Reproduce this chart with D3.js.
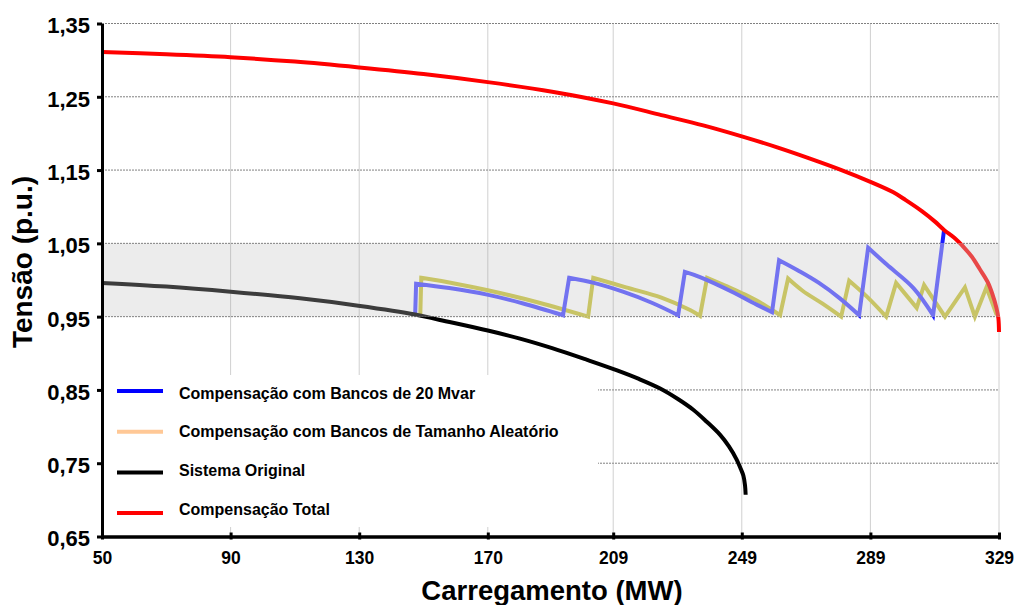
<!DOCTYPE html>
<html>
<head>
<meta charset="utf-8">
<script src="https://cdn.jsdelivr.net/npm/d3@7"></script>
<style>
  html, body { margin: 0; padding: 0; background: #fff; }
  svg { display: block; font-family: Arial, "Liberation Sans", sans-serif; }
</style>
</head>
<body>
<svg id="chart" width="1017" height="605"></svg>
<script>
// Perfil de tensão x carregamento para diferentes estratégias de compensação

const xTicks = [50, 90, 130, 170, 209, 249, 289, 329];
const yTicks = [0.65, 0.75, 0.85, 0.95, 1.05, 1.15, 1.25, 1.35];
const faixaTensao = [0.95, 1.05];

// [carregamento MW, tensão p.u.]
const sistemaOriginal = [
  [50, 0.996], [70, 0.991], [90, 0.984], [111.6, 0.975], [129.7, 0.965],
  [147.4, 0.953], [155.1, 0.9455], [170, 0.931], [180, 0.920], [190, 0.907],
  [200.9, 0.891], [210, 0.877], [217, 0.865], [223.6, 0.852], [229, 0.838],
  [233.9, 0.823], [238, 0.807], [242.2, 0.789], [245, 0.773], [247.4, 0.755],
  [248.7, 0.742], [249.5, 0.733], [250, 0.720], [250.2, 0.707]
];

const compensacaoTotal = [
  [50, 1.311], [70, 1.308], [90, 1.304], [110, 1.298], [130, 1.290],
  [150, 1.281], [170, 1.270], [190, 1.257], [209, 1.241], [224, 1.225],
  [237, 1.211], [249, 1.196], [260, 1.181], [270, 1.166], [280, 1.150],
  [289, 1.134], [296, 1.120], [300, 1.109], [305, 1.094], [309, 1.080],
  [312, 1.068], [315, 1.058], [318, 1.045], [320.5, 1.032], [323, 1.015],
  [325.5, 0.997], [327, 0.980], [328.2, 0.962], [328.8, 0.948], [329, 0.929]
];

const bancos20Mvar = [
  [147.4, 0.953], [147.7, 0.995], [158, 0.989], [169.8, 0.980], [181, 0.968], [193.4, 0.952],
  [195.3, 1.003], [203, 0.996], [212, 0.984], [221, 0.969], [229.2, 0.952],
  [231.3, 1.011], [236, 1.004], [246.4, 0.983], [252, 0.970], [258.4, 0.956],
  [260.6, 1.027], [266.5, 1.013], [273, 0.996], [279.5, 0.975], [285.5, 0.952],
  [288.3, 1.044], [294.1, 1.021], [302.4, 0.989], [308.5, 0.952],
  [311.9, 1.068]
];

const bancosAleatorios = [
  [149, 0.952], [149.3, 1.003], [160, 0.995], [170, 0.986], [186, 0.969], [201.2, 0.950],
  [202.8, 1.003], [213, 0.990], [224, 0.976], [232.9, 0.959], [236, 0.951],
  [238.2, 1.003], [244, 0.992], [250, 0.980], [256, 0.966], [260.9, 0.952],
  [263.4, 1.002], [268, 0.985], [274, 0.968], [279.9, 0.950],
  [282.4, 0.999], [288, 0.977], [293.9, 0.950],
  [297, 0.996], [303.4, 0.962], [305.7, 0.993], [312.2, 0.950],
  [318.4, 0.990], [321.5, 0.950], [325.1, 0.990], [328.3, 0.952]
];

const legendLabels = [
  "Compensação com Bancos de 20 Mvar",
  "Compensação com Bancos de Tamanho Aleatório",
  "Sistema Original",
  "Compensação Total"
];
const legendColors = ["#0000ff", "#ffc896", "#000000", "#ff0000"];

const svg = d3.select("#chart");
const W = 1017, H = 605;

const x = d3.scaleLinear().domain([50, 329]).range([102, 999]);
const y = d3.scaleLinear().domain([0.65, 1.35]).range([536.5, 23.5]);

const ptBR = d3.formatLocale({ decimal: ",", thousands: ".", grouping: [3], currency: ["R$", ""] });
const fmtY = ptBR.format(".2f");

const x0 = x.range()[0], x1 = x.range()[1];
const yTop = y(1.35), yBot = y(0.65);

// clip regions: inside / outside the 0.95–1.05 band
const defs = svg.append("defs");
defs.append("clipPath").attr("id", "clip-in")
  .append("rect")
  .attr("x", 0).attr("width", W)
  .attr("y", y(faixaTensao[1])).attr("height", y(faixaTensao[0]) - y(faixaTensao[1]));
const clipOut = defs.append("clipPath").attr("id", "clip-out");
clipOut.append("rect").attr("x", 0).attr("width", W).attr("y", 0).attr("height", y(faixaTensao[1]));
clipOut.append("rect").attr("x", 0).attr("width", W).attr("y", y(faixaTensao[0])).attr("height", H - y(faixaTensao[0]));

// faixa de tensão admissível
svg.append("rect")
  .attr("x", x0).attr("width", x1 - x0)
  .attr("y", y(faixaTensao[1])).attr("height", y(faixaTensao[0]) - y(faixaTensao[1]))
  .attr("fill", "#ececec");

// grade
const grid = svg.append("g");
grid.selectAll("line.h").data(yTicks.filter(d => d > 0.65)).join("line")
  .attr("class", "h")
  .attr("x1", x0).attr("x2", x1)
  .attr("y1", d => y(d)).attr("y2", d => y(d))
  .attr("stroke", "#808080").attr("stroke-width", 1).attr("stroke-dasharray", "2,1");
grid.selectAll("line.v").data(xTicks.filter(d => d > 50)).join("line")
  .attr("class", "v")
  .attr("x1", d => x(d)).attr("x2", d => x(d))
  .attr("y1", yTop).attr("y2", yBot)
  .attr("stroke", "#a0a0a0").attr("stroke-width", 1).attr("stroke-dasharray", "1,1");

// fundo da legenda
svg.append("rect")
  .attr("x", 104).attr("y", 375).attr("width", 494).attr("height", 152)
  .attr("fill", "#ffffff");

// curvas: trechos descendentes suavizados, saltos dos bancos em linha reta
const smoothLine = d3.line().x(d => x(d[0])).y(d => y(d[1])).curve(d3.curveCatmullRom.alpha(0.5));
const straightLine = d3.line().x(d => x(d[0])).y(d => y(d[1])).curve(d3.curveLinear);

function seriesPath(data) {
  // split into runs of same vertical direction (shared endpoints)
  const runs = [];
  let run = [data[0]];
  let dir = 0;
  for (let i = 1; i < data.length; i++) {
    const d = Math.sign(data[i][1] - data[i - 1][1]);
    if (dir === 0 || d === dir) {
      run.push(data[i]);
      dir = d;
    } else {
      runs.push({ pts: run, dir });
      run = [data[i - 1], data[i]];
      dir = d;
    }
  }
  runs.push({ pts: run, dir });
  let path = "";
  runs.forEach((r, k) => {
    const gen = (r.dir < 0 && r.pts.length > 2) ? smoothLine : straightLine;
    let s = gen(r.pts);
    if (k > 0) s = "L" + s.slice(1);
    path += s;
  });
  return path;
}

function drawSeries(data, colorOut, colorIn) {
  const g = svg.append("g");
  const d = seriesPath(data);
  g.append("path")
    .attr("clip-path", "url(#clip-out)")
    .attr("d", d).attr("fill", "none")
    .attr("stroke", colorOut).attr("stroke-width", 4)
    .attr("stroke-linejoin", "miter").attr("stroke-miterlimit", 10);
  g.append("path")
    .attr("clip-path", "url(#clip-in)")
    .attr("d", d).attr("fill", "none")
    .attr("stroke", colorIn).attr("stroke-width", 4)
    .attr("stroke-linejoin", "miter").attr("stroke-miterlimit", 10);
}

drawSeries(bancosAleatorios, "#c8c466", "#c8c466");
drawSeries(bancos20Mvar, "#1a1aff", "#7272f0");
drawSeries(sistemaOriginal, "#000000", "#3c3c3c");
drawSeries(compensacaoTotal, "#ff0000", "#e84848");

// eixos
const yAxis = d3.axisLeft(y)
  .tickValues(yTicks)
  .tickFormat(fmtY)
  .tickSize(5)
  .tickSizeOuter(0)
  .tickPadding(7);
const gy = svg.append("g").attr("transform", `translate(${x0},0)`).call(yAxis);
gy.select(".domain").attr("stroke", "#000").attr("stroke-width", 3);
gy.selectAll(".tick line").attr("stroke", "#000").attr("stroke-width", 3);
gy.selectAll(".tick text")
  .attr("font-size", 22).attr("font-weight", "bold").attr("fill", "#000")
  .attr("font-family", "Arial, 'Liberation Sans', sans-serif")
  .attr("dy", "0.43em");

const xAxis = d3.axisBottom(x)
  .tickValues(xTicks)
  .tickFormat(d3.format("d"))
  .tickSize(3)
  .tickSizeOuter(0);
const gx = svg.append("g").attr("transform", `translate(0,${yBot})`).call(xAxis);
gx.select(".domain").attr("stroke", "#000").attr("stroke-width", 3.5);
gx.selectAll(".tick line").attr("stroke", "#000").attr("stroke-width", 3).attr("y1", -4).attr("y2", 3);
gx.selectAll(".tick text")
  .attr("font-size", 17.5).attr("font-weight", "bold").attr("fill", "#000")
  .attr("font-family", "Arial, 'Liberation Sans', sans-serif")
  .attr("y", 27.5).attr("dy", 0);

// títulos dos eixos
svg.append("text")
  .attr("x", 552).attr("y", 600)
  .attr("text-anchor", "middle")
  .attr("font-size", 27.5).attr("font-weight", "bold")
  .text("Carregamento (MW)");

svg.append("text")
  .attr("transform", "translate(32,262) rotate(-90)")
  .attr("text-anchor", "middle")
  .attr("font-size", 28).attr("font-weight", "bold")
  .text("Tensão (p.u.)");

// legenda
const leg = svg.append("g");
legendLabels.forEach((label, i) => {
  const ly = 391 + i * 40.7;
  leg.append("line")
    .attr("x1", 117).attr("x2", 163)
    .attr("y1", ly).attr("y2", ly)
    .attr("stroke", legendColors[i]).attr("stroke-width", 4);
  leg.append("text")
    .attr("x", 179).attr("y", 398.5 + i * 38.8)
    .attr("font-size", 16).attr("font-weight", "bold").attr("fill", "#000")
    .text(label);
});
</script>
</body>
</html>
